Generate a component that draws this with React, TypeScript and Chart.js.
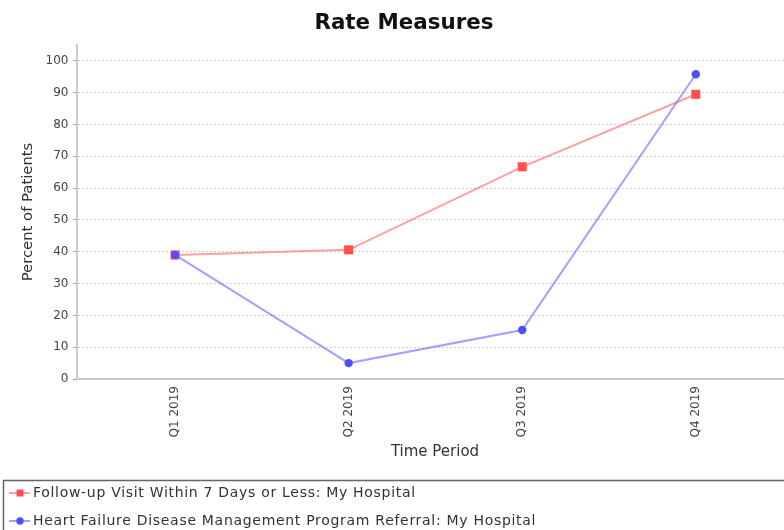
import React, { useEffect, useRef } from "react";
import { Chart, registerables } from "chart.js";

Chart.register(...registerables);

const categories = ["Q1 2019", "Q2 2019", "Q3 2019", "Q4 2019"];
const followUpValues = [39, 40.6, 66.7, 89.5];
const referralValues = [39, 5, 15.4, 95.8];
const seriesNames = [
  "Follow-up Visit Within 7 Days or Less: My Hospital",
  "Heart Failure Disease Management Program Referral: My Hospital",
];
const yTicks = [0, 10, 20, 30, 40, 50, 60, 70, 80, 90, 100];

const RED_MARK = "#ff4f4f";
const RED_LINE = "rgba(255,110,110,0.65)";
const BLUE_MARK = "#4f4fff";
const BLUE_LINE = "rgba(110,110,255,0.65)";
const FONT = "'DejaVu Sans', Verdana, sans-serif";

const legendPlugin = {
  id: "boxLegend",
  afterDraw(chart: any) {
    const ctx = chart.ctx as any;
    const W = chart.width;
    ctx.save();
    ctx.strokeStyle = "#666";
    ctx.lineWidth = 1.5;
    ctx.strokeRect(3.5, 480.5, W - 7, 60);
    const rows = [
      { y: 493, color: RED_MARK, line: RED_LINE, shape: "rect", text: seriesNames[0] },
      { y: 521, color: BLUE_MARK, line: BLUE_LINE, shape: "circle", text: seriesNames[1] },
    ];
    for (const r of rows) {
      ctx.strokeStyle = r.line;
      ctx.lineWidth = 2;
      ctx.beginPath();
      ctx.moveTo(9, r.y);
      ctx.lineTo(30, r.y);
      ctx.stroke();
      ctx.fillStyle = r.color;
      if (r.shape === "rect") {
        ctx.fillRect(16.5, r.y - 3.5, 7, 7);
      } else {
        ctx.beginPath();
        ctx.arc(20, r.y, 3.7, 0, Math.PI * 2);
        ctx.fill();
      }
      ctx.fillStyle = "#333";
      ctx.font = `14px ${FONT}`;
      ctx.letterSpacing = "0.7px";
      ctx.textBaseline = "middle";
      ctx.textAlign = "left";
      ctx.fillText(r.text, 33, r.y);
    }
    ctx.restore();
  },
};

export default function App() {
  const ref = useRef<HTMLCanvasElement | null>(null);
  useEffect(() => {
    if (!ref.current) return;
    const chart = new Chart(ref.current, {
      type: "line",
      data: {
        datasets: [
          {
            label: seriesNames[0],
            data: followUpValues.map((v, i) => ({ x: i, y: v })),
            borderColor: RED_LINE,
            backgroundColor: RED_MARK,
            pointBackgroundColor: RED_MARK,
            pointBorderColor: RED_MARK,
            pointBorderWidth: 0,
            pointStyle: "rect",
            pointRadius: 6.4,
            borderWidth: 2,
            tension: 0,
            order: 1,
          },
          {
            label: seriesNames[1],
            data: referralValues.map((v, i) => ({ x: i, y: v })),
            borderColor: BLUE_LINE,
            backgroundColor: BLUE_MARK,
            pointBackgroundColor: BLUE_MARK,
            pointBorderColor: BLUE_MARK,
            pointBorderWidth: 0,
            pointStyle: "circle",
            pointRadius: 4.2,
            borderWidth: 2,
            tension: 0,
            order: 0,
          },
        ],
      },
      options: {
        responsive: false,
        animation: false,
        devicePixelRatio: 1,
        layout: { padding: { top: 0, left: 15, right: 15, bottom: 60 } },
        plugins: {
          legend: { display: false },
          tooltip: { enabled: false },
          title: {
            display: true,
            text: "Rate Measures",
            color: "#111",
            font: { family: FONT, size: 21.4, weight: "bold" },
            padding: { top: 11, bottom: 8.3 },
          },
        },
        scales: {
          x: {
            type: "linear",
            min: -0.565,
            max: 3.56,
            afterFit(scale: any) {
              scale.height = 91;
            },
            afterBuildTicks(scale: any) {
              scale.ticks = categories.map((_, i) => ({ value: i }));
            },
            grid: { display: false, drawTicks: false },
            border: { display: true, color: "#c8c8c8", width: 2 },
            ticks: {
              autoSkip: false,
              maxRotation: 90,
              minRotation: 90,
              padding: 7,
              color: "#444",
              font: { family: FONT, size: 12 },
              callback: (v: any) => categories[v as number] ?? "",
            },
            title: {
              display: true,
              text: "Time Period",
              color: "#333",
              font: { family: FONT, size: 15 },
              padding: { top: 0, bottom: 9.2 },
            },
          },
          y: {
            type: "linear",
            min: 0,
            max: 105,
            afterFit(scale: any) {
              scale.width = 62;
            },
            afterBuildTicks(scale: any) {
              scale.ticks = yTicks.map((v) => ({ value: v }));
            },
            grid: {
              color: "#d0d0d0",
              lineWidth: 1,
              drawTicks: true,
              tickLength: 4,
              tickColor: "#999",
              tickBorderDash: [],
            },
            border: { display: true, color: "#c8c8c8", width: 2, dash: [2, 2] },
            ticks: {
              padding: 4.5,
              color: "#444",
              font: { family: FONT, size: 12 },
            },
            title: {
              display: true,
              text: "Percent of Patients",
              color: "#333",
              font: { family: FONT, size: 14.8 },
              padding: { top: 4.3, bottom: 0 },
            },
          },
        },
      },
      plugins: [legendPlugin],
    } as any);
    return () => chart.destroy();
  }, []);
  return (
    <div
      style={{
        position: "fixed",
        left: 0,
        top: 0,
        width: 784,
        height: 530,
        overflow: "hidden",
        background: "#fff",
      }}
    >
      <canvas ref={ref} width={808} height={530} style={{ display: "block" }} />
    </div>
  );
}
